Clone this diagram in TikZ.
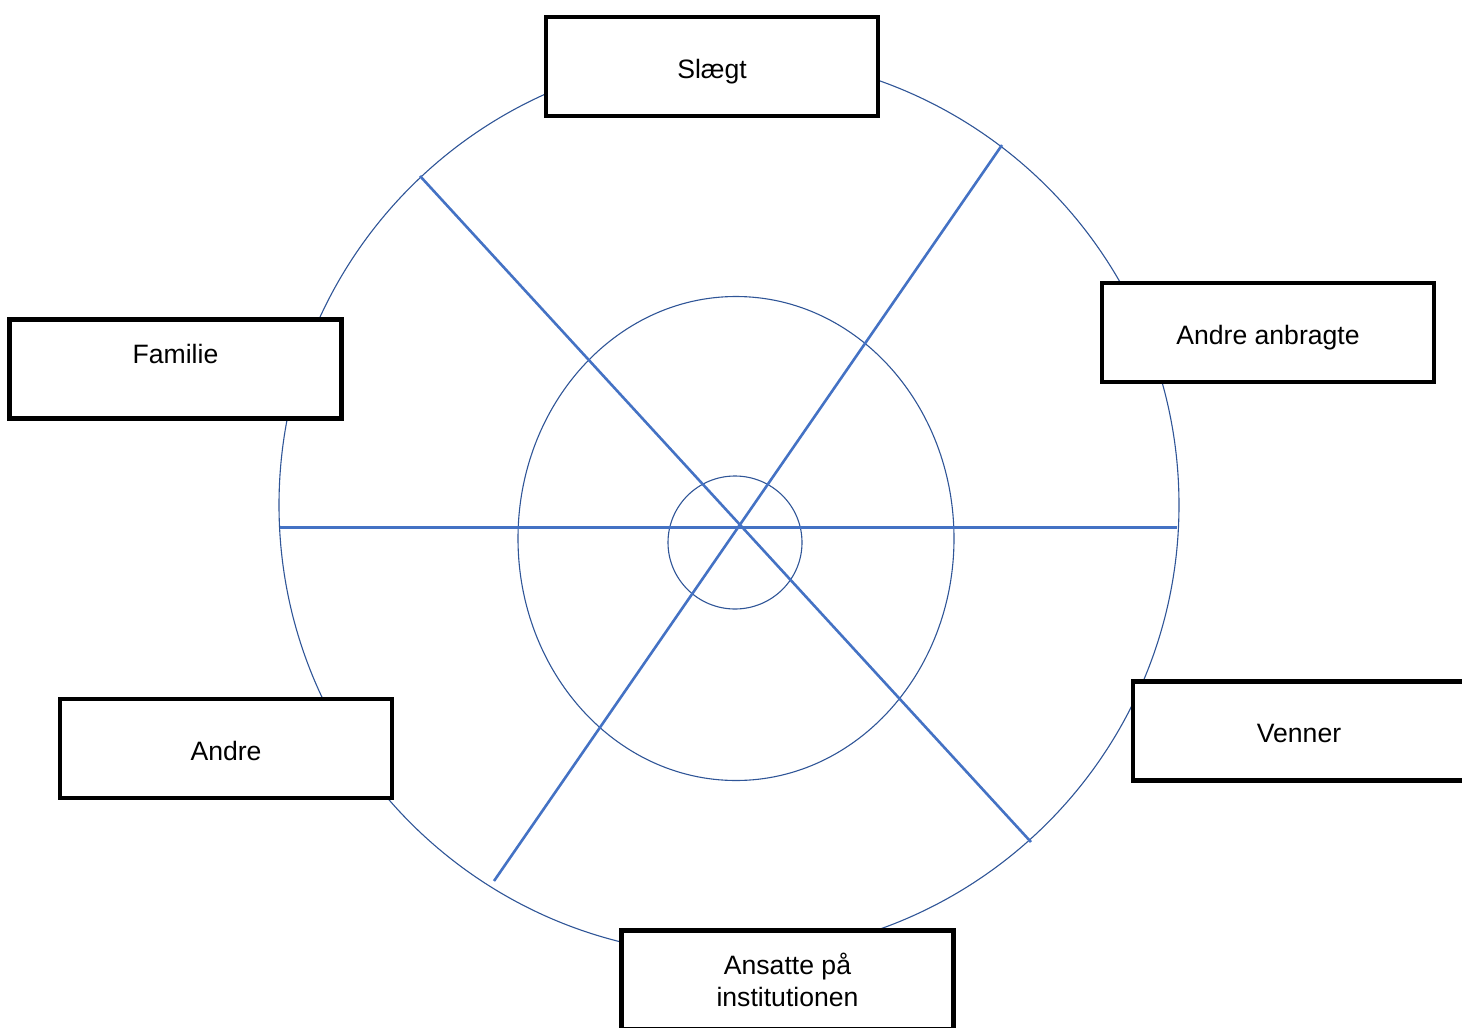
\documentclass[tikz,border=0pt]{standalone}
\usepackage{fontspec}
\setmainfont{Liberation Sans}
\definecolor{ringblue}{HTML}{2F5597}
\definecolor{spokeblue}{HTML}{4472C4}
\begin{document}
\begin{tikzpicture}[x=0.5pt,y=-0.5pt,
  ring/.style={draw=ringblue,line width=0.55pt},
  spoke/.style={draw=spokeblue,line width=1.3pt},
  labelbox/.style={draw=black,fill=white,line width=2.3pt,rectangle,
    minimum width=166pt,minimum height=49.5pt,inner sep=0pt,
    font=\fontsize{13.3}{16}\selectfont,align=center},
  onel/.style={text height=14pt,text depth=2.5pt},
  highl/.style={text height=10pt,text depth=16pt}]
\useasboundingbox (0,0) rectangle (1462,1028);
\clip (0,0) rectangle (1462,1028);
% rings
\draw[ring] (729,505) ellipse [x radius=450,y radius=450];
\draw[ring] (736,538.5) ellipse [x radius=218,y radius=242];
\draw[ring] (735,542.5) ellipse [x radius=67,y radius=66.5];
% spokes
\coordinate (hL) at (280,527.5);
\coordinate (hR) at (1177,527.5);
\coordinate (d1a) at (420,176);
\coordinate (d1b) at (1031,842);
\coordinate (d2a) at (1002,145);
\coordinate (d2b) at (494,881);
\draw[spoke] (hL) -- (hR);
\draw[spoke] (d1a) -- (d1b);
\draw[spoke] (d2a) -- (d2b);
% boxes
\node[labelbox,onel] (slaegt) at (712,66.5) {Slægt};
\node[labelbox,highl] (familie) at (175.5,369) {Familie};
\node[labelbox,onel] (anbragte) at (1268,332.5) {Andre anbragte};
\node[labelbox,onel] (venner) at (1299,730.7) {Venner};
\node[labelbox,onel] (andre) at (226,748.5) {Andre};
\node[labelbox] (ansatte) at (787.5,980) {Ansatte på\\institutionen};
\end{tikzpicture}
\end{document}
